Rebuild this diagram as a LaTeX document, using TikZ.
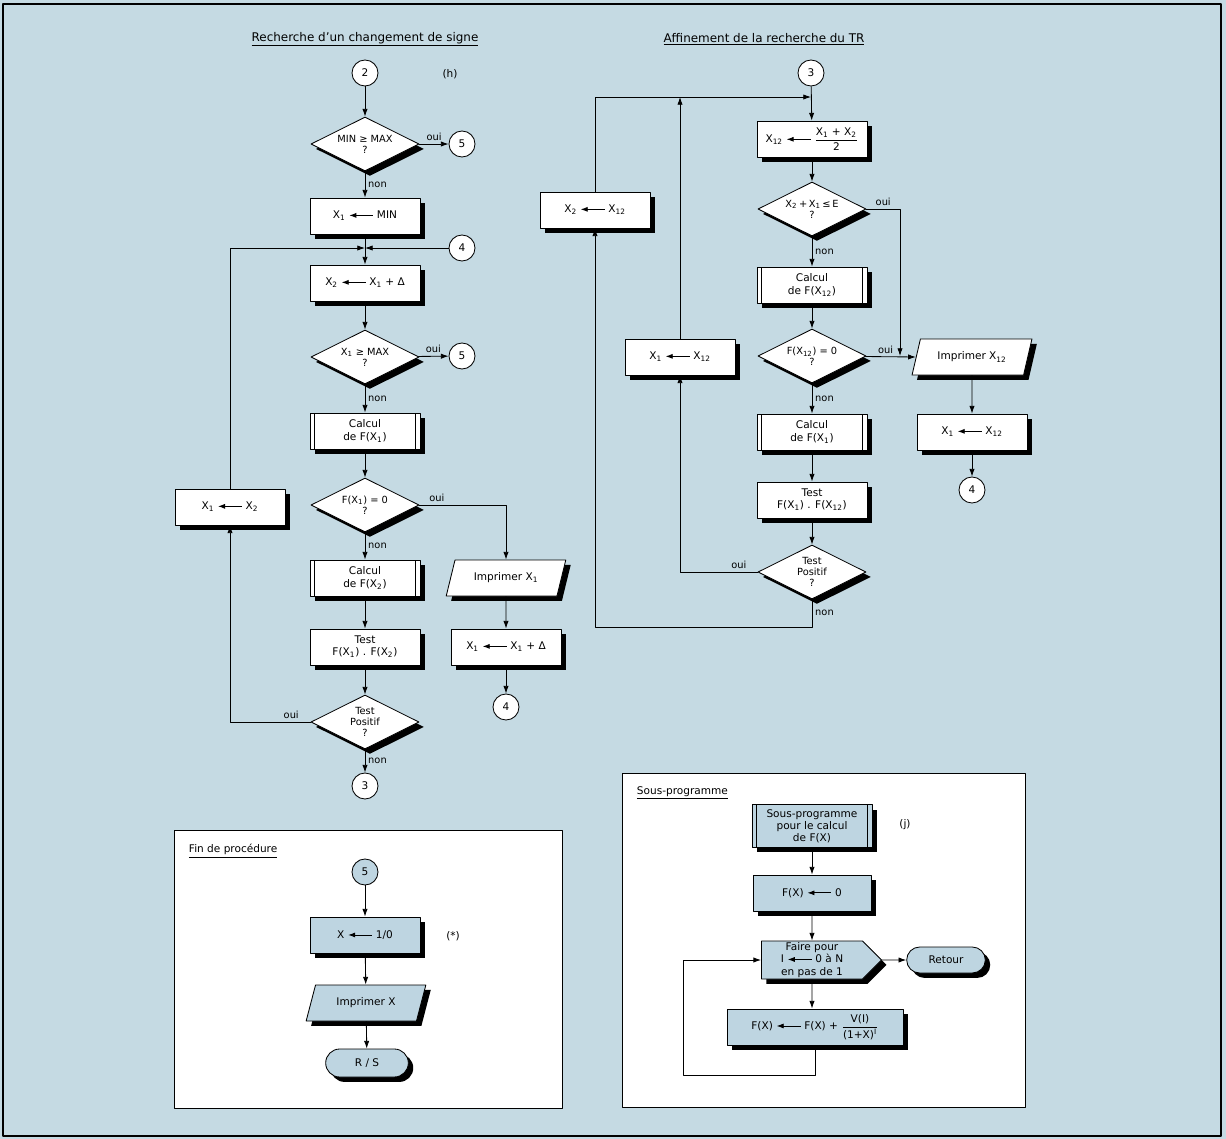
\documentclass[tikz,border=0pt]{standalone}
\usepackage{fontspec}
\setmainfont{DejaVu Sans}
\usepackage{amsmath}
\usetikzlibrary{arrows.meta,positioning,calc,shapes.geometric,shapes.misc,shapes.symbols,shadows}

\definecolor{paper}{RGB}{197,218,227}
\definecolor{nodeblue}{RGB}{190,213,225}

% assignment arrow used inside the boxes
\newcommand{\asg}{\tikz[baseline=-0.6ex]\draw[line width=0.6pt,{Latex[length=5pt,width=3.6pt]}-] (0pt,0pt) -- (17pt,0pt);}

\begin{document}
\begin{tikzpicture}[x=0.025cm, y=-0.025cm, line join=round,
  font=\fontsize{7.5}{8.6}\selectfont,
  flow/.style={-{Latex[length=5.5pt,width=3.8pt]}, line width=0.6pt},
  shadowed/.style={drop shadow={shadow xshift=3.5pt, shadow yshift=-3.5pt, opacity=1, fill=black}},
  proc/.style={rectangle, draw, line width=0.6pt, fill=white, minimum width=2.75cm, minimum height=0.9cm, align=center, shadowed},
  subr/.style={proc, path picture={
      \draw[line width=0.5pt] ([xshift=3pt]path picture bounding box.north west) -- ([xshift=3pt]path picture bounding box.south west);
      \draw[line width=0.5pt] ([xshift=-3pt]path picture bounding box.north east) -- ([xshift=-3pt]path picture bounding box.south east);}},
  decide/.style={diamond, aspect=2, draw, line width=0.6pt, fill=white, inner sep=0pt, minimum width=2.7cm, minimum height=1.35cm, align=center, font=\fontsize{7}{7.8}\selectfont, shadowed},
  io/.style={trapezium, trapezium left angle=72, trapezium right angle=108, trapezium stretches=true, draw, line width=0.6pt, fill=white, minimum width=3cm, minimum height=0.9cm, shadowed},
  term/.style={rounded rectangle, draw, line width=0.6pt, fill=nodeblue, minimum width=2.3cm, minimum height=0.7cm, shadowed},
  loopbox/.style={signal, signal to=east, signal from=nowhere, draw, line width=0.6pt, fill=nodeblue, minimum width=3cm, minimum height=0.95cm, align=center, inner sep=1pt, shadowed},
  conn/.style={circle, draw, line width=0.6pt, fill=white, minimum size=0.65cm, inner sep=0pt},
  lbl/.style={font=\fontsize{7}{8}\selectfont, inner sep=2pt},
  ttl/.style={font=\fontsize{8.5}{10}\selectfont},
  panel/.style={draw, line width=0.6pt, fill=white}]

  % 0. Background and frame
  \useasboundingbox (0,0) rectangle (1226,1139);
  \fill[paper] (0,0) rectangle (1226,1139);
  \draw[line width=1.2pt] (3,4) rectangle (1221,1136);

  % 1. Titles
  \node[ttl] (ttlA) at (365,39) {\underline{Recherche d'un changement de signe}};
  \node[ttl] (ttlB) at (764,39) {\underline{Affinement de la recherche du TR}};

  % 2. Left chart: search for a change of sign
  \node[conn] (c2) at (365,73) {2};
  \node (h) at (450,74) {(h)};
  \node[decide] (d1) at (365,144) {MIN ≥ MAX\\?};
  \node[conn] (c5a) at (462,144) {5};
  \node[proc] (b1) at (365,216) {X\textsubscript{1} \asg{} MIN};
  \coordinate (j1) at (365,248);
  \node[conn] (c4a) at (462,248) {4};
  \node[proc] (b2) at (365,283) {X\textsubscript{2} \asg{} X\textsubscript{1} + Δ};
  \node[decide] (d2) at (365,357) {X\textsubscript{1} ≥ MAX\\?};
  \node[conn] (c5b) at (462,356) {5};
  \node[subr] (s1) at (365,431) {Calcul\\de F(X\textsubscript{1})};
  \node[decide] (d3) at (365,505) {F(X\textsubscript{1}) = 0\\?};
  \node[subr] (s2) at (365,578) {Calcul\\de F(X\textsubscript{2})};
  \node[io] (p1) at (506,578) {Imprimer X\textsubscript{1}};
  \node[proc] (t1) at (365,647) {Test\\F(X\textsubscript{1}) . F(X\textsubscript{2})};
  \node[proc] (b3) at (506,647) {X\textsubscript{1} \asg{} X\textsubscript{1} + Δ};
  \node[conn] (c4b) at (506,707) {4};
  \node[decide] (d4) at (365,722) {Test\\Positif\\?};
  \node[conn] (c3a) at (365,786) {3};
  \node[proc] (b4) at (230,507) {X\textsubscript{1} \asg{} X\textsubscript{2}};

  \draw[flow] (c2) -- (d1);
  \draw[flow] (d1) -- node[lbl, above] {oui} (c5a);
  \draw[flow] (d1) -- node[lbl, right] {non} (b1);
  \draw[flow] (b1) -- (b2);
  \draw[flow] (c4a) -- (j1);
  \draw[flow] (b4.north) |- (j1);
  \draw[flow] (b2) -- (d2);
  \draw[flow] (d2) -- node[lbl, above] {oui} (c5b);
  \draw[flow] (d2) -- node[lbl, right] {non} (s1);
  \draw[flow] (s1) -- (d3);
  \draw[flow] (d3.east) -| node[lbl, above, pos=0.1] {oui} (p1.north);
  \draw[flow] (d3) -- node[lbl, right] {non} (s2);
  \draw[flow] (s2) -- (t1);
  \draw[flow] (t1) -- (d4);
  \draw[flow] (p1) -- (b3);
  \draw[flow] (b3) -- (c4b);
  \draw[flow] (d4.west) -| node[lbl, above, pos=0.12] {oui} (b4.south);
  \draw[flow] (d4) -- node[lbl, right] {non} (c3a);

  % 3. Right chart: refining the search
  \node[conn] (c3b) at (811,73) {3};
  \coordinate (j2) at (811,97);
  \node[proc] (r1) at (812,139) {X\textsubscript{12} \asg{} $\dfrac{\text{X\textsubscript{1} + X\textsubscript{2}}}{\text{2}}$};
  \node[decide] (rd1) at (812,209) {X\textsubscript{2}\,+\,X\textsubscript{1}\,≤\,E\\?};
  \node[subr] (rs1) at (812,285) {Calcul\\de F(X\textsubscript{12})};
  \node[decide] (rd2) at (812,356) {F(X\textsubscript{12}) = 0\\?};
  \coordinate (j3) at (900,356);
  \node[io] (rp1) at (972,357) {Imprimer X\textsubscript{12}};
  \node[proc] (rb2) at (972,432) {X\textsubscript{1} \asg{} X\textsubscript{12}};
  \node[conn] (c4c) at (972,490) {4};
  \node[subr] (rs2) at (812,432) {Calcul\\de F(X\textsubscript{1})};
  \node[proc] (rt1) at (812,500) {Test\\F(X\textsubscript{1}) . F(X\textsubscript{12})};
  \node[decide] (rd3) at (812,572) {Test\\Positif\\?};
  \node[proc] (rb1) at (680,357) {X\textsubscript{1} \asg{} X\textsubscript{12}};
  \node[proc] (rb0) at (595,210) {X\textsubscript{2} \asg{} X\textsubscript{12}};
  \coordinate (k1) at (595,627);

  \draw[flow] (c3b) -- (r1);
  \draw[flow] (rb0.north) |- (j2);
  \draw[flow] (rb1.north) -- (rb1.north |- j2);
  \draw[flow] (r1) -- (rd1);
  \draw[flow] (rd1.east) -| node[lbl, above, pos=0.25] {oui} (j3);
  \draw[flow] (rd1) -- node[lbl, right] {non} (rs1);
  \draw[flow] (rs1) -- (rd2);
  \draw[flow] (rd2) -- node[lbl, above, pos=0.4] {oui} (rp1.west);
  \draw[flow] (rp1) -- (rb2);
  \draw[flow] (rb2) -- (c4c);
  \draw[flow] (rd2) -- node[lbl, right] {non} (rs2);
  \draw[flow] (rs2) -- (rt1);
  \draw[flow] (rt1) -- (rd3);
  \draw[flow] (rd3.west) -| node[lbl, above, pos=0.12] {oui} (rb1.south);
  \draw[flow] (rd3.south) -- node[lbl, right] {non} (rd3.south |- k1) -- (k1) -- (rb0.south);

  % 4. Panel: end of procedure
  \draw[panel] (174,830) rectangle (562,1108);
  \node[anchor=west] (ttlC) at (184,851) {\underline{Fin de procédure}};
  \node[conn, fill=nodeblue] (c5c) at (365,872) {5};
  \node[proc, fill=nodeblue] (f1) at (365,935) {X \asg{} 1/0};
  \node (star) at (453,936) {(*)};
  \node[io, fill=nodeblue] (f2) at (366,1003) {Imprimer X};
  \node[term] (f3) at (367,1063) {R / S};

  \draw[flow] (c5c) -- (f1);
  \draw[flow] (f1) -- (f2);
  \draw[flow] (f2) -- (f3);

  % 5. Panel: subroutine
  \draw[panel] (622,773) rectangle (1025,1107);
  \node[anchor=west] (ttlD) at (632,793) {\underline{Sous-programme}};
  \node[subr, fill=nodeblue, minimum width=3cm] (g1) at (812,826) {Sous-programme\\pour le calcul\\de F(X)};
  \node (j) at (905,825) {(j)};
  \node[proc, fill=nodeblue, minimum width=2.95cm] (g2) at (812,893) {F(X) \asg{} 0};
  \node[loopbox] (g3) at (812,960) {Faire pour\\I \asg{} 0 à N\\en pas de 1};
  \node[term, minimum width=2.2cm, minimum height=0.65cm] (g4) at (946,960) {Retour};
  \node[proc, fill=nodeblue, minimum width=4.4cm] (g5) at (815,1027) {F(X) \asg{} F(X) + $\dfrac{\text{V(I)}}{\text{(1+X)\textsuperscript{I}}}$};
  \coordinate (k2) at (683,1075);

  \draw[flow] (g1) -- (g2);
  \draw[flow] (g2) -- (g3);
  \draw[flow] (g3) -- (g3 |- g5.north);
  \draw[flow] (g3) -- (g4);
  \draw[flow] (g5.south) -- (g5.south |- k2) -- (k2) |- (g3.west);

\end{tikzpicture}
\end{document}
